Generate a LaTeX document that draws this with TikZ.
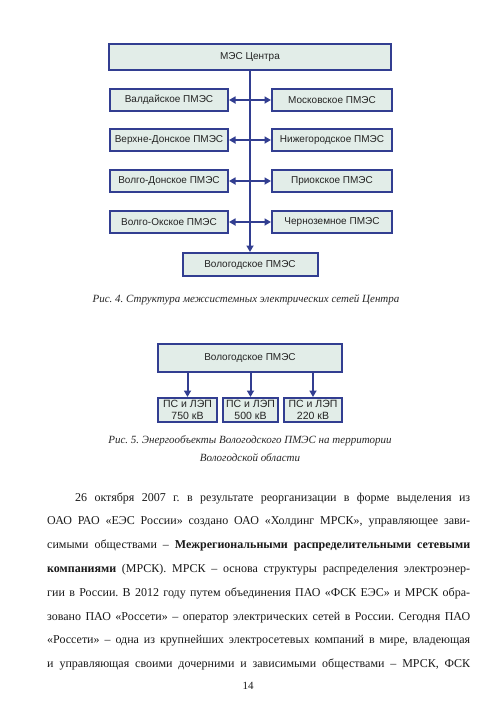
\documentclass[tikz,border=0pt]{standalone}
\usepackage{fontspec}
\setmainfont{Liberation Serif}
\newfontfamily\boxfont{Liberation Sans}
\usetikzlibrary{arrows.meta}
\definecolor{bfill}{RGB}{226,237,232}
\definecolor{bline}{RGB}{50,62,145}
\definecolor{btext}{RGB}{35,35,35}
\frenchspacing
\begin{document}
\begin{tikzpicture}[x=1pt,y=-1pt,
  box/.style={draw=bline, line width=2pt, fill=bfill, inner sep=0pt, text=btext,
    font=\boxfont\fontsize{10}{11}\selectfont},
  pbox/.style={box, align=center, font=\boxfont\fontsize{10.5}{12}\selectfont},
  conn/.style={draw=bline, line width=2pt, -{Triangle[length=6.5pt,width=7pt]}},
  conntwo/.style={draw=bline, line width=2pt, {Triangle[length=6.5pt,width=7pt]}-{Triangle[length=6.5pt,width=7pt]}},
  capt/.style={font=\itshape\fontsize{11}{18}\selectfont, text=black!85, align=center, inner sep=0pt},
  txt/.style={anchor=base west, inner sep=0pt, font=\fontsize{12}{14}\selectfont, text=black!90}
]
\useasboundingbox[fill=white] (0,0) rectangle (500,710);

% Figure 4
\node[box, minimum width=282, minimum height=26] (mes) at (250,57) {МЭС Центра};
\node[box, minimum width=118, minimum height=22] (l1) at (169,100) {Валдайское ПМЭС};
\node[box, minimum width=120, minimum height=22] (r1) at (332,100) {Московское ПМЭС};
\node[box, minimum width=118, minimum height=22] (l2) at (169,140) {Верхне-Донское ПМЭС};
\node[box, minimum width=120, minimum height=22] (r2) at (332,140) {Нижегородское ПМЭС};
\node[box, minimum width=118, minimum height=22] (l3) at (169,181) {Волго-Донское ПМЭС};
\node[box, minimum width=120, minimum height=22] (r3) at (332,181) {Приокское ПМЭС};
\node[box, minimum width=118, minimum height=22] (l4) at (169,222) {Волго-Окское ПМЭС};
\node[box, minimum width=120, minimum height=22] (r4) at (332,222) {Черноземное ПМЭС};
\node[box, minimum width=135, minimum height=23] (vol) at (250,264.5) {Вологодское ПМЭС};

\draw[conn] (mes.south) -- (vol.north);
\draw[conntwo] (l1.east) -- (r1.west);
\draw[conntwo] (l2.east) -- (r2.west);
\draw[conntwo] (l3.east) -- (r3.west);
\draw[conntwo] (l4.east) -- (r4.west);

\node[capt] (cap1) at (246,300) {Рис. 4. Структура межсистемных электрических сетей Центра};

% Figure 5
\node[box, minimum width=184, minimum height=28] (vt) at (250,358) {Вологодское ПМЭС};
\node[pbox, minimum width=59, minimum height=24] (p1) at (187.5,410) {ПС и ЛЭП\\750 кВ};
\node[pbox, minimum width=55, minimum height=24] (p2) at (250.5,410) {ПС и ЛЭП\\500 кВ};
\node[pbox, minimum width=58, minimum height=24] (p3) at (313,410) {ПС и ЛЭП\\220 кВ};
\draw[conn] (vt.south -| p1.north) -- (p1.north);
\draw[conn] (vt.south -| p2.north) -- (p2.north);
\draw[conn] (vt.south -| p3.north) -- (p3.north);

\node[capt] (cap2) at (250,449) {Рис. 5. Энергообъекты Вологодского ПМЭС на территории\\Вологодской области};

% Body text
\node[txt] (t1) at (75,501) {\makebox[395pt][s]{26 октября 2007 г. в результате реорганизации в форме выделения из}};
\node[txt] (t2) at (47,524.8) {\makebox[423pt][s]{ОАО РАО «ЕЭС России» создано ОАО «Холдинг МРСК», управляющее зави-}};
\node[txt] (t3) at (47,548.6) {\makebox[423pt][s]{симыми обществами – \textbf{Межрегиональными распределительными сетевыми}}};
\node[txt] (t4) at (47,572.4) {\makebox[423pt][s]{\textbf{компаниями} (МРСК). МРСК – основа структуры распределения электроэнер-}};
\node[txt] (t5) at (47,596.2) {\makebox[423pt][s]{гии в России. В 2012 году путем объединения ПАО «ФСК ЕЭС» и МРСК обра-}};
\node[txt] (t6) at (47,620) {\makebox[423pt][s]{зовано ПАО «Россети» – оператор электрических сетей в России. Сегодня ПАО}};
\node[txt] (t7) at (47,643.8) {\makebox[423pt][s]{«Россети» – одна из крупнейших электросетевых компаний в мире, владеющая}};
\node[txt] (t8) at (47,667.6) {\makebox[423pt][s]{и управляющая своими дочерними и зависимыми обществами – МРСК, ФСК}};
\node[inner sep=0pt, font=\fontsize{11}{13}\selectfont, text=black!90] (pg) at (248,686) {14};
\end{tikzpicture}
\end{document}
